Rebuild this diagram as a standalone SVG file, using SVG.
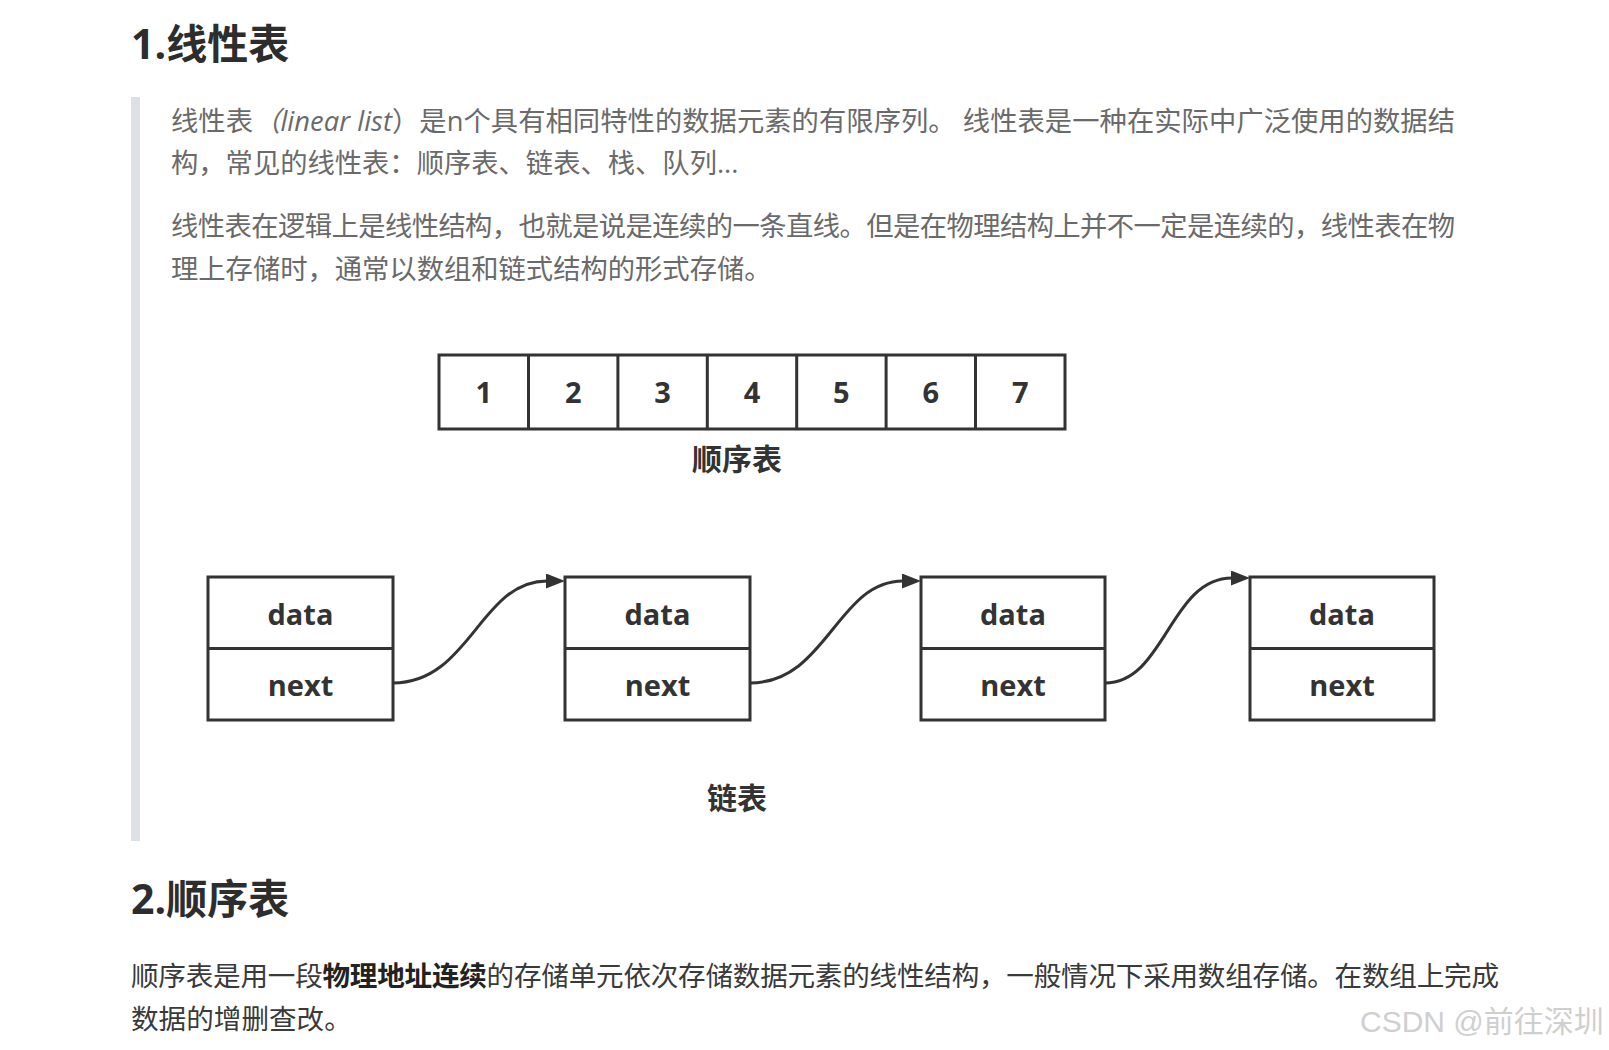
<svg xmlns="http://www.w3.org/2000/svg" width="1609" height="1050" viewBox="0 0 1609 1050">
<style>
.h{font-family:"Open Sans","Noto Sans CJK SC",sans-serif;font-weight:700;font-size:41px;fill:#2d2d2d}
.q{font-family:"Open Sans","Noto Sans CJK SC",sans-serif;font-size:27.3px;fill:#6a6a6a}
.p{font-family:"Open Sans","Noto Sans CJK SC",sans-serif;font-size:27.6px;fill:#3a3a3a}
.b{font-weight:700;fill:#222}
.cell{fill:#fff;stroke:#333;stroke-width:3}
.n{font-family:"Open Sans","Noto Sans CJK SC",sans-serif;font-weight:700;font-size:29px;fill:#333;text-anchor:middle}
.lbl{font-family:"Noto Sans CJK SC",sans-serif;font-weight:700;font-size:30px;fill:#333;text-anchor:middle}
.arr{fill:none;stroke:#333;stroke-width:3}
.wm{font-family:"Liberation Sans","Noto Sans CJK SC",sans-serif;font-size:30px;fill:#cfcfcf}
</style>
<defs>
<marker id="ah" markerUnits="userSpaceOnUse" markerWidth="22" markerHeight="16" refX="1" refY="7.5" orient="auto">
<path d="M0,0 L19,7.5 L0,15 z" fill="#333"/>
</marker>
</defs>
<rect width="1609" height="1050" fill="#fff"/>

<text class="h" x="131" y="59">1.线性表</text>
<rect x="131" y="97" width="9" height="744" fill="#dde0e4"/>

<text class="q" x="171" y="131" textLength="1284" lengthAdjust="spacing">线性表<tspan font-style="italic">（linear list</tspan>）是n个具有相同特性的数据元素的有限序列。 线性表是一种在实际中广泛使用的数据结</text>
<text class="q" x="171" y="173">构，常见的线性表：顺序表、链表、栈、队列...</text>
<text class="q" x="171" y="236" textLength="1284" lengthAdjust="spacing">线性表在逻辑上是线性结构，也就是说是连续的一条直线。但是在物理结构上并不一定是连续的，线性表在物</text>
<text class="q" x="171" y="279">理上存储时，通常以数组和链式结构的形式存储。</text>

<g id="seq">
<rect class="cell" x="439" y="355" width="626" height="74"/>
<line class="cell" x1="528.5" y1="355" x2="528.5" y2="429"/>
<line class="cell" x1="617.9" y1="355" x2="617.9" y2="429"/>
<line class="cell" x1="707.3" y1="355" x2="707.3" y2="429"/>
<line class="cell" x1="796.7" y1="355" x2="796.7" y2="429"/>
<line class="cell" x1="886.1" y1="355" x2="886.1" y2="429"/>
<line class="cell" x1="975.5" y1="355" x2="975.5" y2="429"/>
<text class="n" x="483.7" y="403">1</text>
<text class="n" x="573.2" y="403">2</text>
<text class="n" x="662.6" y="403">3</text>
<text class="n" x="752" y="403">4</text>
<text class="n" x="841.4" y="403">5</text>
<text class="n" x="930.8" y="403">6</text>
<text class="n" x="1020.2" y="403">7</text>
</g>
<text class="lbl" x="737" y="470">顺序表</text>

<g id="node1">
<rect class="cell" x="208" y="577" width="185" height="143"/>
<line class="cell" x1="208" y1="648.5" x2="393" y2="648.5"/>
<text class="n" x="300.5" y="625">data</text>
<text class="n" x="300.5" y="696">next</text>
</g>
<g id="node2">
<rect class="cell" x="565" y="577" width="185" height="143"/>
<line class="cell" x1="565" y1="648.5" x2="750" y2="648.5"/>
<text class="n" x="657.5" y="625">data</text>
<text class="n" x="657.5" y="696">next</text>
</g>
<g id="node3">
<rect class="cell" x="921" y="577" width="184" height="143"/>
<line class="cell" x1="921" y1="648.5" x2="1105" y2="648.5"/>
<text class="n" x="1013" y="625">data</text>
<text class="n" x="1013" y="696">next</text>
</g>
<g id="node4">
<rect class="cell" x="1250" y="577" width="184" height="143"/>
<line class="cell" x1="1250" y1="648.5" x2="1434" y2="648.5"/>
<text class="n" x="1342" y="625">data</text>
<text class="n" x="1342" y="696">next</text>
</g>

<g id="connectors">
<path class="arr" d="M393,683 C470,683 480,581 547,581" marker-end="url(#ah)"/>
<path class="arr" d="M750,683 C827,683 837,581 903,581" marker-end="url(#ah)"/>
<path class="arr" d="M1105,683 C1165,683 1170,578 1232,578" marker-end="url(#ah)"/>
</g>
<text class="lbl" x="737" y="809" font-size="31">链表</text>

<text class="h" x="131" y="914">2.顺序表</text>
<text class="p" x="131" y="986" textLength="1368" lengthAdjust="spacing">顺序表是用一段<tspan class="b">物理地址连续</tspan>的存储单元依次存储数据元素的线性结构，一般情况下采用数组存储。在数组上完成</text>
<text class="p" x="131" y="1029">数据的增删查改。</text>

<text class="wm" x="1360" y="1032">CSDN @前往深圳</text>
</svg>
